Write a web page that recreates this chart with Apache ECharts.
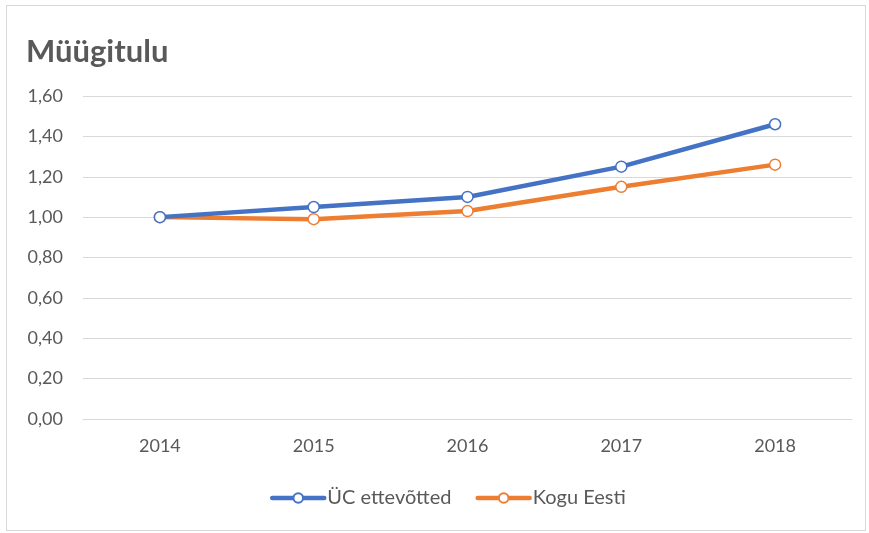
<!DOCTYPE html>
<html><head><meta charset="utf-8">
<script src="https://cdn.jsdelivr.net/npm/echarts@6/dist/echarts.min.js"></script>
<style>
html,body{margin:0;padding:0;background:#fff;}
#c{position:absolute;left:6px;top:5px;width:860px;height:526px;border:1px solid #d9d9d9;box-sizing:border-box;}
</style></head>
<body><div id="c"></div>
<script>
const categories = ['2014','2015','2016','2017','2018'];
const ucValues = [1.00, 1.05, 1.10, 1.25, 1.46];
const koguValues = [1.00, 0.99, 1.03, 1.15, 1.26];
const seriesNames = ['ÜC ettevõtted', 'Kogu Eesti'];
const titleText = 'Müügitulu';

const chart = echarts.init(document.getElementById('c'));
const font = 'Lato, "Open Sans", sans-serif';
chart.setOption({
  animation: false,
  title: {text: titleText, left: 14, top: 25, textStyle: {fontFamily: font, fontSize: 31, fontWeight: 'bold', color: '#595959'}},
  grid: {left: 76, right: 13, top: 90, bottom: 111},
  legend: {
    data: seriesNames, top: 477, left: 258, itemWidth: 52, itemHeight: 12, itemGap: 24,
    lineStyle: {width: 4.5, cap: 'round'},
    textStyle: {fontFamily: font, fontSize: 20, color: '#595959', padding: [0, 0, 0, -2]}
  },
  xAxis: {
    type: 'category', data: categories,
    axisLine: {show: true, lineStyle: {color: '#d9d9d9'}}, axisTick: {show: false},
    axisLabel: {fontFamily: font, fontSize: 18, color: '#595959', margin: 18}
  },
  yAxis: {
    type: 'value', min: 0, max: 1.6, interval: 0.2,
    axisLine: {show: false}, axisTick: {show: false},
    splitLine: {lineStyle: {color: '#d9d9d9'}},
    axisLabel: {fontFamily: font, fontSize: 18, color: '#595959', margin: 20,
      formatter: v => v.toFixed(2).replace('.', ',')}
  },
  series: [
    {name: seriesNames[0], type: 'line', data: ucValues, symbol: 'circle', symbolSize: 11,
      lineStyle: {width: 4.5, color: '#4472C4', cap: 'round'},
      itemStyle: {color: '#fff', borderColor: '#4472C4', borderWidth: 1.5}, z: 3},
    {name: seriesNames[1], type: 'line', data: koguValues, symbol: 'circle', symbolSize: 11,
      lineStyle: {width: 4.5, color: '#ED7D31', cap: 'round'},
      itemStyle: {color: '#fff', borderColor: '#ED7D31', borderWidth: 1.5}, z: 2}
  ]
});
</script></body></html>
